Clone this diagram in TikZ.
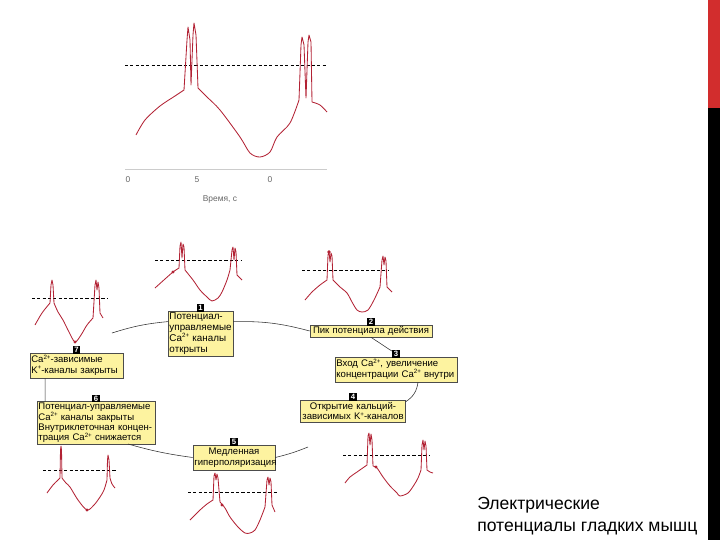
\documentclass[tikz,border=0pt]{standalone}
\usepackage{fontspec}
\setmainfont{Liberation Sans}
\usetikzlibrary{positioning}
\definecolor{wave}{RGB}{178,34,52}
\definecolor{note}{RGB}{253,243,160}
\definecolor{barred}{RGB}{210,45,45}
\providecommand{\ion}[1]{\smash{\raisebox{0.38em}{\fontsize{4.4}{4.4}\selectfont #1}}}

\begin{document}
\begin{tikzpicture}[
  x=0.025cm, y=-0.025cm,
  font=\fontsize{6.8}{7.4}\selectfont,
  box/.style={draw=black!70, fill=note, inner sep=1pt, line width=0.4pt},
  tag/.style={fill=black, text=white, font=\fontsize{5.5}{5.5}\selectfont\bfseries,
              inner sep=0.8pt, minimum size=5.5pt},
  trace/.style={wave, line width=0.6pt, line join=round},
  thr/.style={dashed, dash pattern=on 2.2pt off 1.6pt, line width=0.6pt},
  link/.style={black!80, line width=0.4pt},
  blip/.style={fill=wave},
  numlbl/.style={text=black!60, font=\fontsize{6}{6}\selectfont, inner sep=0pt},
]
\useasboundingbox (0,0) rectangle (720,540);

% ---- side strip ---------------------------------------------------------
\fill[barred] (708,0) rectangle (720,108);
\fill[black]  (708,108) rectangle (720,540);

% ---- recorded trace -----------------------------------------------------
\draw[black!20, line width=0.5pt] (125,169) -- (327,169);
\draw[thr] (125,65) -- (327,65);
\draw[trace] plot[smooth] coordinates {(136,135) (145,120) (160,106) (175,96) (184,90)}
  -- (187,40) -- (188,27) -- (190,40) -- (191,85) -- (193,35) -- (194,23) -- (196,35) -- (198,88)
  -- plot[smooth] coordinates {(198,88) (207,97) (220,110) (240,137) (250,153) (260,157)
      (270,152) (277,137) (290,123) (299,100)}
  -- (301,45) -- (302,37) -- (304,45) -- (306,98) -- (308,42) -- (309,35) -- (311,42) -- (312,102)
  -- plot[smooth] coordinates {(312,102) (320,105) (327,112)};

\node[numlbl] (lx0)  at (128,180) {0};
\node[numlbl] (lx5)  at (197,180) {5};
\node[numlbl] (lx10) at (270,180) {0};
\node[numlbl] (lxt)  at (220,199) {Время, с};

% ---- the cycle ----------------------------------------------------------
\node[box, text width=1.55cm, minimum height=1.03cm, align=left,
      font=\fontsize{7}{7.9}\selectfont] (s1) at (200.5,333.5)
  {Потенциал-\\управляемые\\Ca\ion{2+} каналы\\открыты};
\node[box, text width=2.98cm, minimum height=0.3cm, align=center] (s2) at (371,331)
  {Пик потенциала действия};
\node[box, text width=2.98cm, minimum height=0.62cm, align=left] (s3) at (396,369.5)
  {Вход Ca\ion{2+}, увеличение\\концентрации Ca\ion{2+} внутри};
\node[box, text width=2.55cm, minimum height=0.55cm, align=center] (s4) at (353,411)
  {Открытие кальций-\\зависимых K\ion{+}-каналов};
\node[box, text width=1.98cm, minimum height=0.62cm, align=center] (s5) at (234,457.5)
  {Медленная\\гиперполяризация};
\node[box, text width=2.88cm, minimum height=1.0cm, align=left] (s6) at (96,423)
  {Потенциал-управляемые\\Ca\ion{2+} каналы закрыты\\Внутриклеточная концен-\\трация Ca\ion{2+} снижается};
\node[box, text width=2.26cm, minimum height=0.62cm, align=left] (s7) at (76.5,365.5)
  {Ca\ion{2+}-зависимые\\K\ion{+}-каналы закрыты};

\node[tag, above=-0.8pt of s1] (t1) {1};
\node[tag, above=-0.8pt of s2] (t2) {2};
\node[tag, above=-0.8pt of s3] (t3) {3};
\node[tag, above=-0.8pt of s4] (t4) {4};
\node[tag, above=-0.8pt of s5] (t5) {5};
\node[tag, above=-0.8pt of s6] (t6) {6};
\node[tag, above=-0.8pt of s7] (t7) {7};

\coordinate (a7) at (112,333);
\coordinate (a4) at (308,447);
\coordinate (a6) at (128,444);
\draw[link] (a7) to[bend left=6] (s1.160);
\draw[link] (s1.20) to[bend left=8] (s2.west);
\draw[link] (s2.south) -- (t3);
\draw[link] (s3.-30) to[bend left=25] (s4.10);
\draw[link] (a4) to[bend left=4] (s5.east);
\draw[link] (s5.west) to[bend left=4] (a6);
\draw[link] (s7.-158) -- (s6.157);

% ---- small traces round the cycle ---------------------------------------
% above 1
\draw[thr] (155,260) -- (242,260);
\draw[trace] plot[smooth] coordinates {(155,288) (165,279) (173,272) (179,268)}
  -- (180,246) -- (181,242) -- (182,258) -- (183,244) -- (184,247) -- (185,270)
  -- plot[smooth] coordinates {(185,270) (193,280) (200,290) (207,297) (212,301)
      (218,298) (222,292) (227,280) (230,270)}
  -- (232,250) -- (233,247) -- (234,260) -- (235,248) -- (236,252) -- (237,275)
  -- plot[smooth] coordinates {(237,275) (242,280)};
\fill[blip] (173,272) circle (1.6);

% above 2
\draw[thr] (302,270) -- (388,270);
\draw[trace] plot[smooth] coordinates {(305,300) (312,292) (320,285) (327,280)}
  -- (328,255) -- (329,251) -- (330,262) -- (331,253) -- (332,256) -- (333,280)
  -- plot[smooth] coordinates {(333,280) (340,287) (347,293) (352,302) (357,310)
      (362,312) (368,310) (374,300) (380,287)}
  -- (382,260) -- (383,256) -- (384,265) -- (385,257) -- (386,261) -- (387,287)
  -- plot[smooth] coordinates {(387,287) (392,292)};
\fill[blip] (329,252) circle (1.8);

% above 7
\draw[thr] (32,298) -- (107,298);
\draw[trace] plot[smooth] coordinates {(35,325) (42,313) (50,303)}
  -- (51,285) -- (52,280) -- (53,285) -- (54,303)
  -- plot[smooth] coordinates {(54,303) (58,312) (63,320) (69,332) (75,342)
      (81,335) (87,325) (93,318)}
  -- (95,285) -- (96,280) -- (97,290) -- (98,282) -- (99,288) -- (100,313)
  -- plot[smooth] coordinates {(100,313) (103,318)};
\fill[blip] (75,342) circle (1.6);

% below 6
\draw[thr] (43,470) -- (117,470);
\draw[trace] plot[smooth] coordinates {(47,493) (53,485) (60,478)}
  -- (60.5,450) -- (61,446) -- (61.5,450) -- (62,478)
  -- plot[smooth] coordinates {(62,478) (66,483) (70,487) (78,500) (87,510)
      (94,505) (100,497) (104,490) (107,480)}
  -- (107.5,460) -- (108,455) -- (109,460) -- (110,478)
  -- plot[smooth] coordinates {(110,478) (112,484) (115,488)};
\fill[blip] (87,510) circle (1.6);

% below 5
\draw[thr] (188,492) -- (277,492);
\draw[trace] plot[smooth] coordinates {(190,520) (200,510) (207,504) (213,500)}
  -- (214,476) -- (215,473) -- (216,480) -- (217,474) -- (218,478) -- (220,502)
  -- plot[smooth] coordinates {(220,502) (225,508) (230,517) (238,527) (245,533)
      (250,533) (255,530) (260,520) (265,507)}
  -- (267,480) -- (268,477) -- (269,485) -- (270,478) -- (271,482) -- (272,505)
  -- plot[smooth] coordinates {(272,505) (275,512)};
\fill[blip] (222,505) circle (1.6);

% below 4
\draw[thr] (343,455) -- (430,455);
\draw[trace] plot[smooth] coordinates {(345,483) (350,477) (357,472) (367,465)}
  -- (368,436) -- (369,433) -- (370,445) -- (371,434) -- (372,440) -- (373,466)
  -- plot[smooth] coordinates {(373,466) (377,468) (383,477) (390,486) (397,493)
      (400,496) (408,493) (414,485) (418,478) (421,470)}
  -- (422,445) -- (423,440) -- (424,450) -- (425,441) -- (426,446) -- (427,470)
  -- plot[smooth] coordinates {(427,470) (430,472) (433,473)};
\fill[blip] (376,467) circle (1.6);

% ---- caption ------------------------------------------------------------
\node[anchor=west, align=left, inner sep=0pt, font=\fontsize{12.5}{15.6}\selectfont]
  (caption) at (477,516) {Электрические\\потенциалы гладких мышц};

\end{tikzpicture}
\end{document}
